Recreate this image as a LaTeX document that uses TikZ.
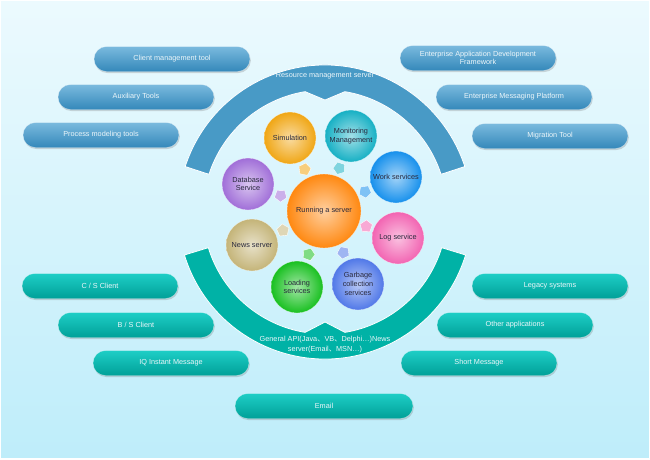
\documentclass[tikz,border=0pt]{standalone}
\usepackage{fontspec}
\setmainfont{Liberation Sans}
\newfontfamily\cjk{Noto Sans CJK SC}
\usetikzlibrary{shapes.misc,shapes.geometric,shadows,calc}
\definecolor{bgtop}{RGB}{236,250,254}
\definecolor{bgbot}{RGB}{190,237,250}
\definecolor{blueband}{RGB}{72,154,198}
\definecolor{tealband}{RGB}{0,178,166}
\definecolor{pbtop}{RGB}{122,186,222}
\definecolor{pbbot}{RGB}{52,136,186}
\definecolor{pttop}{RGB}{30,206,198}
\definecolor{ptbot}{RGB}{0,160,152}
\definecolor{ptext}{RGB}{236,246,250}
\definecolor{ctext}{RGB}{40,40,60}
\definecolor{csim}{RGB}{240,166,20}
\definecolor{cmon}{RGB}{22,176,196}
\definecolor{cwork}{RGB}{22,144,236}
\definecolor{clog}{RGB}{242,100,178}
\definecolor{cgar}{RGB}{80,120,232}
\definecolor{cload}{RGB}{24,192,32}
\definecolor{cnews}{RGB}{196,180,120}
\definecolor{cdb}{RGB}{160,110,216}
\definecolor{crun}{RGB}{255,136,16}
\tikzset{
  pill/.style={rounded rectangle, minimum width=158pt, minimum height=25pt, inner sep=1pt,
    font=\fontsize{7.3}{8.7}\selectfont, text=ptext, align=center, draw=white, draw opacity=0.5, line width=0.4pt,
    drop shadow={shadow xshift=0.8pt, shadow yshift=-1.5pt, opacity=0.25, fill=black!60}},
  bluepill/.style={pill, top color=pbtop, bottom color=pbbot},
  tealpill/.style={pill, top color=pttop, bottom color=ptbot},
  sat/.style={circle, minimum size=52pt, inner sep=0pt, align=center,
    font=\fontsize{7.3}{8.7}\selectfont, text=ctext, shading=radial,
    inner color=#1!40!white, outer color=#1, draw=white, draw opacity=0.6, line width=0.4pt},
  arr/.style={regular polygon, regular polygon sides=5, minimum size=13pt, inner sep=0pt,
    fill=#1!55!white, draw=white, line width=0.4pt},
  bandtext/.style={font=\fontsize{7.3}{8.7}\selectfont, text=ptext, align=center}
}
\begin{document}
\begin{tikzpicture}[x=1pt,y=-1pt]
\useasboundingbox (0,0) rectangle (650,459);
\shade[top color=bgtop, bottom color=bgbot] (0,0) rectangle (650,459);
\draw[white, line width=2pt] (0,0) rectangle (650,459);
\coordinate (C) at (325,212);
% upper band
\fill[blueband, draw=white, line width=0.8pt]
  ($(C)+(-162:147)$) arc[start angle=-162, end angle=-18, radius=147]
  -- ($(C)+(-18:122)$) arc[start angle=-18, end angle=-80.6, radius=122]
  -- ($(C)+(0,-112)$) -- ($(C)+(-99.4:122)$)
  arc[start angle=-99.4, end angle=-162, radius=122] -- cycle;
% lower band
\fill[tealband, draw=white, line width=0.8pt]
  ($(C)+(163:147)$) arc[start angle=163, end angle=17, radius=147]
  -- ($(C)+(17:122)$) arc[start angle=17, end angle=80.6, radius=122]
  -- ($(C)+(0,110)$) -- ($(C)+(99.4:122)$)
  arc[start angle=99.4, end angle=163, radius=122] -- cycle;
\node[bandtext] (rms) at (325,76) {Resource management server};
\node[bandtext, font=\fontsize{7.3}{10}\selectfont] (api) at (325,345)
  {General API(Java{\cjk 、}VB{\cjk 、}Delphi…)News\\server(Email{\cjk 、}MSN…)};
% pills
\node[bluepill] (p1) at (172,59) {Client management tool};
\node[bluepill] (p2) at (136,97) {Auxiliary Tools};
\node[bluepill] (p3) at (101,135) {Process modeling tools};
\node[bluepill] (p4) at (478,58) {Enterprise Application Development\\Framework};
\node[bluepill] (p5) at (514,97) {Enterprise Messaging Platform};
\node[bluepill] (p6) at (550,136) {Migration Tool};
\node[tealpill] (p7) at (100,286) {C / S Client};
\node[tealpill] (p8) at (136,325) {B / S Client};
\node[tealpill] (p9) at (171,363) {IQ Instant Message};
\node[tealpill, minimum width=180pt] (p10) at (324,406) {Email};
\node[tealpill] (p11) at (550,286) {Legacy systems};
\node[tealpill] (p12) at (515,325) {Other applications};
\node[tealpill] (p13) at (479,363) {Short Message};
% circles
\node[sat=crun, minimum size=74pt] (run) at (324,211) {Running a server};
\node[sat=csim] (sim) at (290,138) {Simulation};
\node[sat=cmon] (mon) at (351,136) {Monitoring\\Management};
\node[sat=cwork] (work) at (396,177) {Work services};
\node[sat=clog] (log) at (398,238) {Log service};
\node[sat=cgar] (gar) at (358,284) {Garbage\\collection\\services};
\node[sat=cload] (load) at (297,287) {Loading\\services};
\node[sat=cnews] (news) at (252,245) {News server};
\node[sat=cdb] (db) at (248,184) {Database\\Service};
% small arrows
\node[arr=csim, rotate=205] (a1) at ($(run)!0.57!(sim)$) {};
\node[arr=cmon, rotate=161] (a2) at ($(run)!0.57!(mon)$) {};
\node[arr=cwork, rotate=116] (a3) at ($(run)!0.57!(work)$) {};
\node[arr=clog, rotate=70] (a4) at ($(run)!0.57!(log)$) {};
\node[arr=cgar, rotate=25] (a5) at ($(run)!0.57!(gar)$) {};
\node[arr=cload, rotate=-20] (a6) at ($(run)!0.57!(load)$) {};
\node[arr=cnews, rotate=-66] (a7) at ($(run)!0.57!(news)$) {};
\node[arr=cdb, rotate=250] (a8) at ($(run)!0.57!(db)$) {};
\end{tikzpicture}
\end{document}
